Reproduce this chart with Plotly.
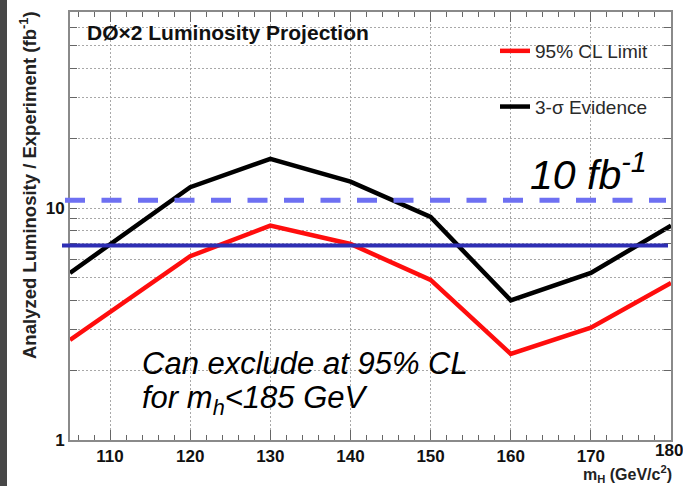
import math
import plotly.graph_objects as go

# ---- data ----
mass = [105, 120, 130, 140, 150, 160, 170, 180]
limit_95cl = [2.7, 6.2, 8.4, 7.0, 4.9, 2.35, 3.05, 4.75]
evidence_3sigma = [5.25, 12.3, 16.3, 13.0, 9.15, 4.0, 5.25, 8.4]
lumi_10fb_level = 10.8      # dashed light-blue guide
lumi_current_level = 6.9    # solid dark-blue guide
x_ticks = [110, 120, 130, 140, 150, 160, 170, 180]
x_ticktext = ["110", "120", "130", "140", "150", "160", "170", ""]
last_x_label = "180"
y_tickvals = [1, 2, 3, 4, 5, 6, 7, 8, 9, 10, 20, 30, 40, 50, 60]
y_ticktext = ["1", "", "", "", "", "", "", "", "", "10", "", "", "", "", ""]

W, H = 683, 486
ML, MR, MT, MB = 70, 12, 12, 46
PW, PH = W - ML - MR, H - MT - MB

def px(xp):
    return (xp - ML) / PW

def py(yp):
    return (H - MB - yp) / PH

FONT = "Liberation Sans, Arial, Helvetica, sans-serif"

fig = go.Figure()
fig.add_trace(go.Scatter(x=mass, y=limit_95cl, mode="lines", name="95% CL Limit",
                         line=dict(color="#ff0d0d", width=4.5), legendgroup="a"))
fig.add_trace(go.Scatter(x=mass, y=evidence_3sigma, mode="lines", name="3-σ Evidence",
                         line=dict(color="#000000", width=4.5), legendgroup="b"))

shapes = [
    # legend white box
    dict(type="rect", xref="paper", yref="paper", x0=px(493), x1=px(667), y0=py(125), y1=py(13),
         fillcolor="white", line=dict(width=0), layer="between"),
    # dark strip at left edge
    dict(type="rect", xref="paper", yref="paper", x0=px(0), x1=px(7), y0=py(H + 2), y1=py(-2),
         fillcolor="#474747", line=dict(width=0), layer="above"),
    # guide lines
    dict(type="line", xref="paper", yref="y", x0=px(65), x1=px(666),
         y0=lumi_10fb_level, y1=lumi_10fb_level,
         line=dict(color="#6e70f2", width=5, dash="20px,16.5px"), layer="above"),
    dict(type="line", xref="paper", yref="y", x0=px(62), x1=px(668),
         y0=lumi_current_level, y1=lumi_current_level,
         line=dict(color="#2e2eb4", width=4), layer="above"),
]

annotations = [
    dict(text="<b>DØ×2 Luminosity Projection</b>", x=px(85), y=py(32), xref="paper", yref="paper",
         xanchor="left", yanchor="middle", showarrow=False, font=dict(family=FONT, size=21, color="#111")),
    dict(text="<i>10 fb<sup>-1</sup></i>", x=px(528), y=py(172), xref="paper", yref="paper",
         xanchor="left", yanchor="middle", showarrow=False, font=dict(family=FONT, size=41, color="#000")),
    dict(text="<i>Can exclude at 95% CL</i>", x=px(140), y=py(363), xref="paper", yref="paper",
         xanchor="left", yanchor="middle", showarrow=False, font=dict(family=FONT, size=31, color="#000")),
    dict(text="<i>for m<sub>h</sub>&lt;185 GeV</i>", x=px(140), y=py(400), xref="paper", yref="paper",
         xanchor="left", yanchor="middle", showarrow=False, font=dict(family=FONT, size=31, color="#000")),
    dict(text="<b>Analyzed Luminosity / Experiment (fb<sup>-1</sup>)</b>", x=px(28), y=py(185),
         xref="paper", yref="paper", xanchor="center", yanchor="middle", textangle=-90,
         showarrow=False, font=dict(family=FONT, size=18.5, color="#222")),
    dict(text="<b>m<sub>H</sub> (GeV/c<sup>2</sup>)</b>", x=px(674), y=py(474), xref="paper", yref="paper",
         xanchor="right", yanchor="middle", showarrow=False, font=dict(family=FONT, size=16, color="#222")),
    dict(text="<b>" + last_x_label + "</b>", x=180, y=py(450), xref="x", yref="paper",
         xanchor="center", yanchor="middle", showarrow=False, xshift=-2,
         font=dict(family=FONT, size=17, color="#111")),
]

fig.update_layout(
    width=W, height=H,
    margin=dict(l=ML, r=MR, t=MT, b=MB, pad=0, autoexpand=False),
    paper_bgcolor="white", plot_bgcolor="white",
    font=dict(family=FONT, color="#222"),
    showlegend=True,
    legend=dict(x=px(495), y=py(32), xanchor="left", yanchor="top",
                bgcolor="rgba(0,0,0,0)", font=dict(family=FONT, size=19, color="#2a2a2a"),
                tracegroupgap=28, traceorder="grouped"),
    shapes=shapes,
    annotations=annotations,
)

fig.update_xaxes(
    range=[105, 180], tickvals=x_ticks, ticktext=x_ticktext, automargin=False,
    ticks="inside", ticklen=10, tickwidth=1, tickcolor="#666",
    showline=True, linecolor="#8a8a8a", linewidth=2, mirror="ticks",
    showgrid=True, gridcolor="#a8a8a8", gridwidth=1, griddash="2px,2px",
    tickfont=dict(family=FONT, size=17, color="#111", weight="bold"),
    minor=dict(dtick=2, ticks="inside", ticklen=5, tickcolor="#666", showgrid=False),
    zeroline=False,
)
fig.update_yaxes(
    type="log", range=[0, math.log10(70)], tickvals=y_tickvals, ticktext=y_ticktext,
    automargin=False,
    ticks="inside", ticklen=7, tickwidth=1, tickcolor="#666",
    showline=True, linecolor="#8a8a8a", linewidth=2, mirror="ticks",
    showgrid=True, gridcolor="#a8a8a8", gridwidth=1, griddash="2px,2px",
    tickfont=dict(family=FONT, size=17, color="#111", weight="bold"),
    zeroline=False,
)

fig.write_html("out.html")
